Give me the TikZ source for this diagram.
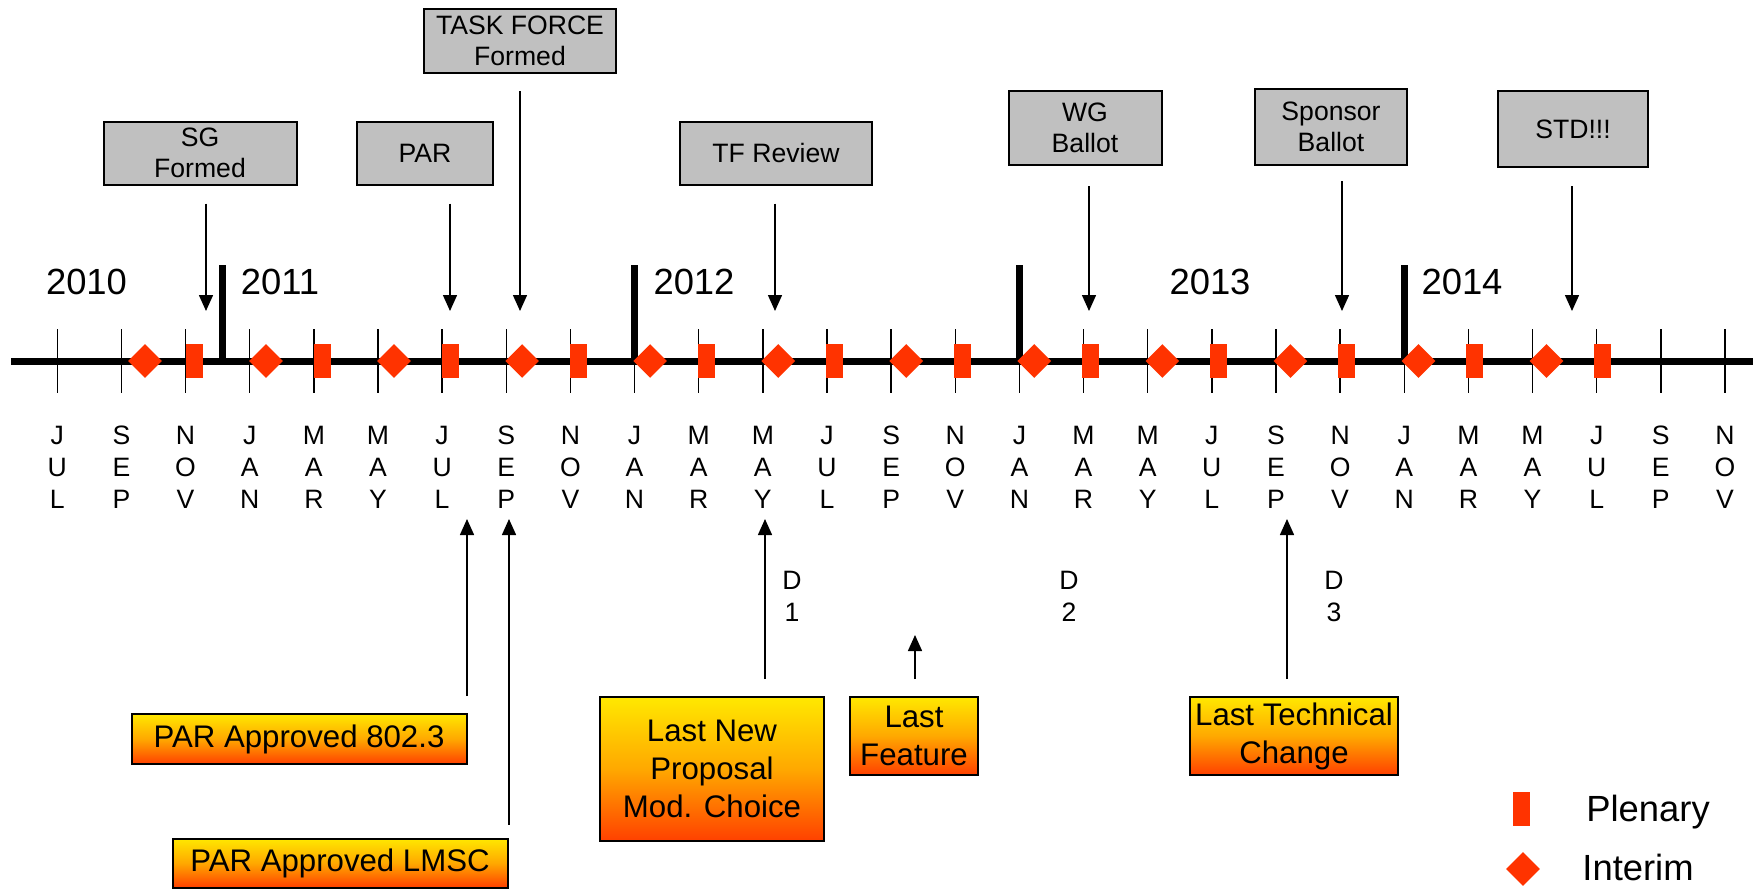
\documentclass[tikz,border=0pt]{standalone}
\usepackage{fontspec}
\setmainfont{Liberation Sans}
\usetikzlibrary{arrows.meta,calc,shapes.geometric}
\definecolor{meetred}{RGB}{255,51,0}
\definecolor{boxgrey}{RGB}{192,192,192}
\definecolor{goldtop}{RGB}{255,232,0}
\definecolor{goldmid}{RGB}{255,168,0}
\definecolor{goldbot}{RGB}{255,64,0}
\begin{document}
\begin{tikzpicture}[x=0.5pt, y=-0.5pt,
  axis/.style = {line width=3.5pt},
  monthtick/.style = {line width=0.75pt},
  yearbar/.style = {line width=3.5pt},
  plenary/.style = {rectangle, fill=meetred, inner sep=0pt,
    minimum width=8.5pt, minimum height=17pt},
  interim/.style = {diamond, fill=meetred, inner sep=0pt,
    minimum width=17pt, minimum height=17pt},
  month/.style = {align=center, inner sep=0pt,
    font=\fontsize{13.3}{16}\selectfont},
  year/.style = {inner sep=0pt, font=\fontsize{18.2}{22}\selectfont},
  milestone/.style = {rectangle, draw, line width=1pt, fill=boxgrey,
    align=center, inner sep=1pt, font=\fontsize{13.3}{15.7}\selectfont},
  goal/.style = {rectangle, draw, line width=1pt,
    top color=goldtop, bottom color=goldbot, middle color=goldmid,
    align=center, inner sep=1pt, font=\fontsize{15.6}{19}\selectfont},
  pointer/.style = {line width=0.75pt, -{Triangle[width=7pt,length=8pt]}}]
  \useasboundingbox (0,0) rectangle (1762,889);

  % time axis with month ticks
  \draw[axis] (11,361) -- (1753,361);
  \foreach \c in {0,...,4}
    \foreach \la/\lb/\lc [count=\j from 0] in {J/U/L,S/E/P,N/O/V,J/A/N,M/A/R,M/A/Y}{
      \pgfmathtruncatemacro\i{6*\c+\j}
      \ifnum\i<27
        \draw[monthtick] (57.3+64.14*\i,329) -- (57.3+64.14*\i,393);
        \node[month] (m\i) at (57.3+64.14*\i,467) {\la\\\lb\\\lc};
      \fi
    }

  % year marks
  \foreach \x in {222.5,634.6,1019.4,1404.2}
    \draw[yearbar] (\x,265) -- (\x,361);
  \node[year] (y2010) at (86.5,282) {2010};
  \node[year] (y2011) at (280,282) {2011};
  \node[year] (y2012) at (694,282) {2012};
  \node[year] (y2013) at (1210,282) {2013};
  \node[year] (y2014) at (1462,282) {2014};

  % meetings
  \node[interim] (in0) at (145,361) {};
  \foreach \k in {1,...,11}
    \node[interim] (in\k) at (266+128.05*\k-128.05,361) {};
  \foreach \k in {1,...,12}
    \node[plenary] (pl\k) at (194.4+128.05*\k-128.05,361) {};

  % milestones above the axis
  \node[milestone, minimum width=96.5pt, minimum height=31.5pt] (sg) at (200,153) {SG\\Formed};
  \node[milestone, minimum width=68pt, minimum height=31.5pt] (par) at (425,153) {PAR};
  \node[milestone, minimum width=96pt, minimum height=32pt] (tf) at (520,41) {TASK FORCE\\Formed};
  \node[milestone, minimum width=96pt, minimum height=31.5pt] (tfr) at (776,153) {TF Review};
  \node[milestone, minimum width=76.5pt, minimum height=37pt] (wg) at (1085,128) {WG\\Ballot};
  \node[milestone, minimum width=76pt, minimum height=38pt] (sb) at (1331,127) {Sponsor\\Ballot};
  \node[milestone, minimum width=75pt, minimum height=38pt] (std) at (1573,129) {STD!!!};

  \coordinate (sgtip) at (206,311);
  \coordinate (partip) at (450,311);
  \coordinate (tftip) at (520,311);
  \coordinate (tfrtip) at (775,311);
  \coordinate (wgtip) at (1089,311);
  \coordinate (sbtip) at (1342,311);
  \coordinate (stdtip) at (1572,311);
  \draw[pointer] ($(sg.south -| sgtip)+(0,18)$) -- (sgtip);
  \draw[pointer] ($(par.south -| partip)+(0,18)$) -- (partip);
  \draw[pointer] ($(tf.south -| tftip)+(0,17)$) -- (tftip);
  \draw[pointer] ($(tfr.south -| tfrtip)+(0,18)$) -- (tfrtip);
  \draw[pointer] ($(wg.south -| wgtip)+(0,20)$) -- (wgtip);
  \draw[pointer] ($(sb.south -| sbtip)+(0,15)$) -- (sbtip);
  \draw[pointer] ($(std.south -| stdtip)+(0,18)$) -- (stdtip);

  % drafts
  \node[month] (d1) at (792,596) {D\\1};
  \node[month] (d2) at (1069,596) {D\\2};
  \node[month] (d3) at (1334,596) {D\\3};

  % deadlines below the axis
  \node[goal, minimum width=167.5pt, minimum height=25pt] (p8023) at (299,739) {PAR Approved 802.3};
  \node[goal, minimum width=167.5pt, minimum height=24.5pt] (plmsc) at (340,863) {PAR Approved LMSC};
  \node[goal, minimum width=112pt, minimum height=72pt] (lnp) at (712,769) {Last New\\Proposal\\Mod. Choice};
  \node[goal, minimum width=64pt, minimum height=39pt] (lf) at (914,736) {Last\\Feature};
  \node[goal, minimum width=104pt, minimum height=39pt] (ltc) at (1294,736) {Last Technical\\Change};

  \coordinate (p8023tip) at (467,519);
  \coordinate (plmsctip) at (509,519);
  \coordinate (lnptip) at (765,519);
  \coordinate (lftip) at (915,635);
  \coordinate (ltctip) at (1287,519);
  \draw[pointer] ($(p8023.north -| p8023tip)+(0,-17)$) -- (p8023tip);
  \draw[pointer] ($(plmsc.north -| plmsctip)+(0,-13)$) -- (plmsctip);
  \draw[pointer] ($(lnp.north -| lnptip)+(0,-17)$) -- (lnptip);
  \draw[pointer] ($(lf.north -| lftip)+(0,-17)$) -- (lftip);
  \draw[pointer] ($(ltc.north -| ltctip)+(0,-17)$) -- (ltctip);

  % legend
  \node[plenary] (keypl) at (1521,809) {};
  \node[interim] (keyin) at (1523,869) {};
  \node[year] (keypltext) at (1648,812) {Plenary};
  \node[year] (keyintext) at (1638,867) {Interim};
\end{tikzpicture}
\end{document}
